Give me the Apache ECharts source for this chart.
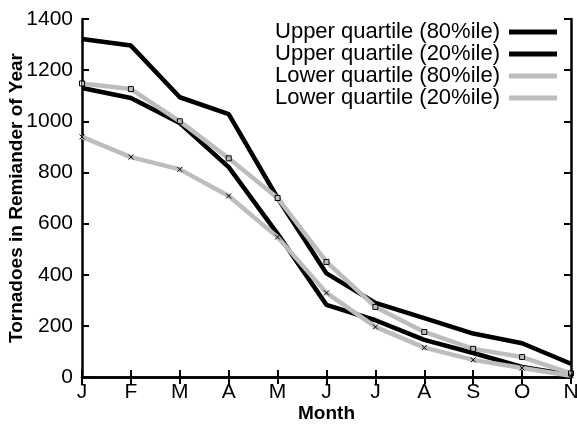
<!DOCTYPE html>
<html lang="en">
<head>
  <meta charset="UTF-8">
  <title>Tornadoes</title>
  <script src="https://cdn.jsdelivr.net/npm/echarts@6/dist/echarts.min.js"></script>
  <style>body{margin:0;background:#fff}</style>
</head>
<body>
<div id="main" style="width:577px;height:425px;"></div>
<script type="text/javascript">
  // months shown on the x axis
  const months = ['J', 'F', 'M', 'A', 'M', 'J', 'J', 'A', 'S', 'O', 'N'];
  const yTicks = [0, 200, 400, 600, 800, 1000, 1200, 1400];
  const upper80 = [1322, 1296, 1094, 1028, 700, 405, 290, 230, 170, 132, 52];
  const upper20 = [1130, 1091, 993, 821, 560, 282, 222, 145, 94, 39, 8];
  const lower80 = [1148, 1126, 1000, 855, 700, 450, 274, 176, 110, 78, 14];
  const lower20 = [939, 860, 812, 708, 547, 329, 196, 115, 67, 35, 5];

  const GRAY = '#bdbdbd';
  const font = 'Liberation Sans, Arial, sans-serif';
  const xMark = 'path://M0,0L10,10M10,0L0,10';
  const sqMark = 'path://M0,0L10,0L10,10L0,10Z';
  const names = ['Upper quartile (80%ile)', 'Upper quartile (20%ile)', 'Lower quartile (80%ile)', 'Lower quartile (20%ile)'];
  const colors = ['#000', '#000', GRAY, GRAY];

  var myChart = echarts.init(document.getElementById('main'));

  function mkSeries(name, data, color, symbol, symSize) {
    return {
      name: name,
      type: 'line',
      data: data,
      xAxisIndex: 0,
      yAxisIndex: 0,
      symbol: symbol,
      symbolSize: symSize,
      showSymbol: true,
      lineStyle: { color: color, width: 4.5 },
      itemStyle: { color: 'rgba(0,0,0,0)', borderColor: '#000', borderWidth: 1 },
      animation: false
    };
  }

  const axisLineStyle = { show: true, lineStyle: { color: '#000', width: 2.5 } };
  const tickStyle = { show: true, inside: true, length: 7, lineStyle: { color: '#000', width: 2 } };

  myChart.setOption({
    backgroundColor: '#fff',
    animation: false,
    grid: { left: 82, right: 6, top: 19, bottom: 48, containLabel: false, outerBoundsMode: 'none' },
    legend: {
      orient: 'vertical',
      right: 20,
      top: 21,
      align: 'right',
      itemWidth: 48,
      itemHeight: 5,
      itemGap: 0,
      padding: 0,
      textStyle: { fontFamily: font, fontSize: 22, color: '#000', lineHeight: 22, padding: [0, 4, 0, 0] },
      data: names.map(function (n, i) {
        return { name: n, icon: 'rect', itemStyle: { color: colors[i], borderWidth: 0 } };
      })
    },
    xAxis: [{
      type: 'category',
      data: months,
      boundaryGap: false,
      position: 'bottom',
      axisLine: axisLineStyle,
      axisTick: tickStyle,
      axisLabel: { fontFamily: font, fontSize: 21, color: '#000', margin: 5 },
      name: 'Month',
      nameLocation: 'middle',
      nameGap: 27,
      nameMoveOverlap: false,
      nameTextStyle: { fontFamily: font, fontSize: 19, fontWeight: 'bold', color: '#000' },
      splitLine: { show: false }
    }, {
      type: 'category',
      data: months,
      boundaryGap: false,
      position: 'top',
      axisLine: axisLineStyle,
      axisTick: tickStyle,
      axisLabel: { show: false },
      splitLine: { show: false }
    }],
    yAxis: [{
      type: 'value',
      min: 0,
      max: 1400,
      interval: 200,
      axisLine: axisLineStyle,
      axisTick: tickStyle,
      axisLabel: { fontFamily: font, fontSize: 21, color: '#000', margin: 9, formatter: function (v) { return String(v); } },
      name: 'Tornadoes in Remiander of Year',
      nameLocation: 'middle',
      nameGap: 56,
      nameMoveOverlap: false,
      nameTextStyle: { fontFamily: font, fontSize: 19, fontWeight: 'bold', color: '#000' },
      splitLine: { show: false }
    }, {
      type: 'value',
      min: 0,
      max: 1400,
      interval: 200,
      position: 'right',
      axisLine: axisLineStyle,
      axisTick: tickStyle,
      axisLabel: { show: false },
      splitLine: { show: false }
    }],
    series: [
      mkSeries(names[0], upper80, '#000', 'none', 0),
      mkSeries(names[1], upper20, '#000', 'none', 0),
      mkSeries(names[2], lower80, GRAY, sqMark, 5),
      mkSeries(names[3], lower20, GRAY, xMark, 5)
    ]
  });
</script>
</body>
</html>
